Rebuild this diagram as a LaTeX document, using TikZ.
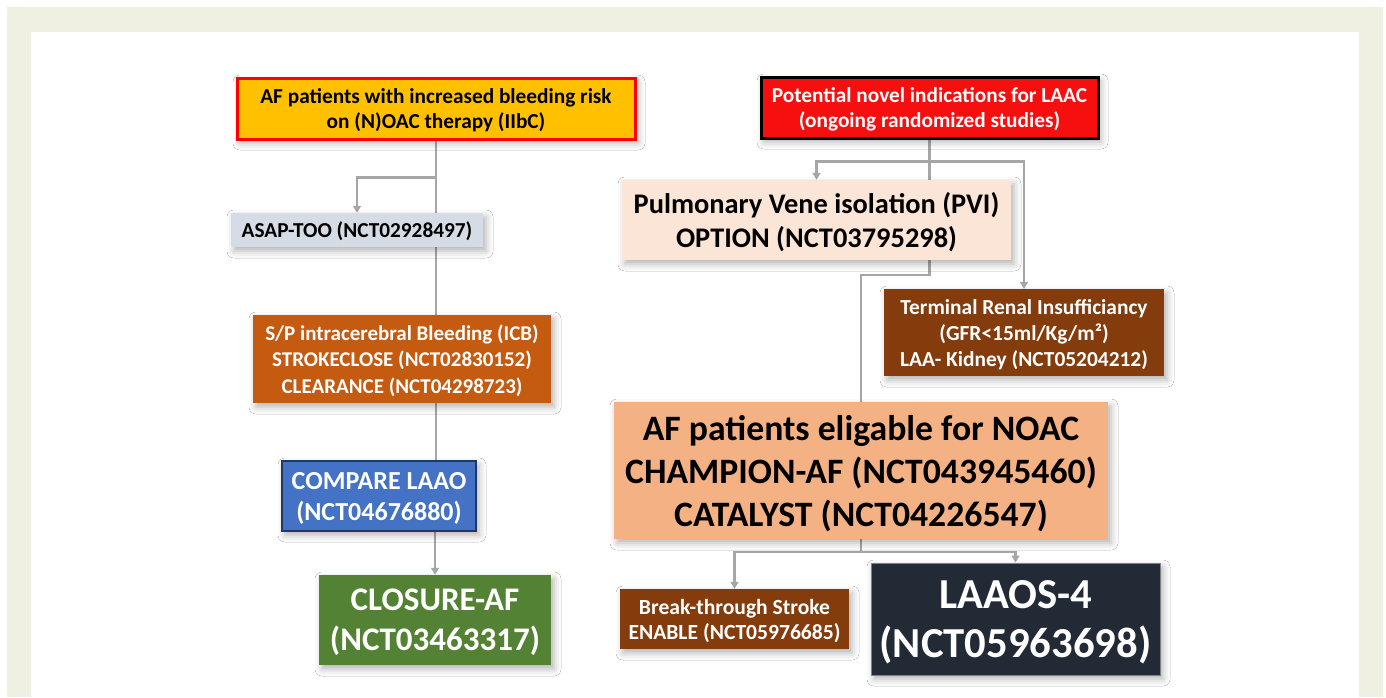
\documentclass[tikz,border=0pt]{standalone}
\usepackage{fontspec}
\setmainfont{Carlito}
\usetikzlibrary{arrows.meta,shadows.blur}
\pgfdeclarelayer{bg}
\pgfdeclarelayer{lines}
\pgfsetlayers{bg,lines,main}

\definecolor{frame}{HTML}{EFEFE2}
\definecolor{amber}{HTML}{FFC000}
\definecolor{alarm}{HTML}{F70F0F}
\definecolor{steel}{HTML}{D6DCE5}
\definecolor{peach}{HTML}{FBE5D6}
\definecolor{rust}{HTML}{843C0C}
\definecolor{burnt}{HTML}{C55A11}
\definecolor{royal}{HTML}{4472C4}
\definecolor{navyedge}{HTML}{1F3864}
\definecolor{salmon}{HTML}{F4B183}
\definecolor{moss}{HTML}{548235}
\definecolor{slate}{HTML}{222A35}
\definecolor{wire}{HTML}{A6A6A6}

\tikzset{
  card/.style={inner sep=0pt, align=center, font=\bfseries, text depth=0pt,
    blur shadow={shadow xshift=3pt, shadow yshift=-4pt,
                 shadow blur radius=7pt, shadow opacity=30}},
  wireline/.style={draw=wire, line width=2.2pt},
  wirearrow/.style={wireline, -{Triangle[width=8pt,length=7pt]}},
}

\begin{document}
\begin{tikzpicture}[x=1pt, y=-1pt]
\useasboundingbox (0,0) rectangle (1386,697);

% left column
\node[card, fill=amber, draw=red, line width=3pt, minimum width=398pt, minimum height=61pt,
      font=\bfseries\fontsize{21.3}{25}\selectfont]
  (yl) at (436,108.5) {AF patients with increased bleeding risk\\on (N)OAC therapy (IIbC)};
\node[card, fill=steel, minimum width=252pt, minimum height=34pt,
      font=\bfseries\fontsize{21.3}{25}\selectfont]
  (asap) at (357,230) {ASAP-TOO (NCT02928497)};
\node[card, fill=burnt, text=white, minimum width=298pt, minimum height=88pt,
      font=\bfseries\fontsize{21}{26.5}\selectfont]
  (icb) at (402,359) {S/P intracerebral Bleeding (ICB)\\STROKECLOSE (NCT02830152)\\CLEARANCE (NCT04298723)};
\node[card, fill=royal, draw=navyedge, line width=1.2pt, text=white, minimum width=194pt, minimum height=70pt,
      font=\bfseries\fontsize{26}{31}\selectfont]
  (cmp) at (379,496) {COMPARE LAAO\\(NCT04676880)};
\node[card, fill=moss, text=white, minimum width=232pt, minimum height=90pt,
      font=\bfseries\fontsize{33}{40}\selectfont]
  (clo) at (435,620) {CLOSURE-AF\\(NCT03463317)};

% right column
\node[card, fill=alarm, draw=black, line width=3pt, text=white, minimum width=337pt, minimum height=61pt,
      font=\bfseries\fontsize{21.3}{25}\selectfont]
  (rd) at (929.5,107.5) {Potential novel indications for LAAC\\(ongoing randomized studies)};
\node[card, fill=peach, minimum width=389pt, minimum height=80pt,
      font=\bfseries\fontsize{28.4}{34}\selectfont]
  (pvi) at (816.5,220) {Pulmonary Vene isolation (PVI)\\OPTION (NCT03795298)};
\node[card, fill=rust, text=white, minimum width=280pt, minimum height=87pt,
      font=\bfseries\fontsize{21.4}{26}\selectfont]
  (ren) at (1024,332.5) {Terminal Renal Insufficiancy\\(GFR<15ml/Kg/m²)\\LAA- Kidney (NCT05204212)};
\node[card, fill=salmon, minimum width=494pt, minimum height=137pt,
      font=\bfseries\fontsize{35.7}{43}\selectfont]
  (noac) at (861,470.5) {AF patients eligable for NOAC\\CHAMPION-AF (NCT043945460)\\CATALYST (NCT04226547)};
\node[card, fill=rust, text=white, minimum width=229pt, minimum height=60pt,
      font=\bfseries\fontsize{21.6}{25}\selectfont]
  (brk) at (734.5,619) {Break-through Stroke\\ENABLE (NCT05976685)};
\node[card, fill=slate, draw=gray, line width=1pt, text=white, minimum width=289pt, minimum height=112pt,
      font=\bfseries\fontsize{42.7}{49}\selectfont]
  (laaos) at (1015.5,619) {LAAOS-4\\(NCT05963698)};

% connectors
\begin{pgfonlayer}{lines}
  \draw[wirearrow] (yl.south) -- ++(0,37) -| (asap.north);
  \draw[wireline] (yl.south) -- (yl.south |- icb.north);
  \draw[wireline] (icb.south -| yl.south) -- (cmp.north -| yl.south);
  \draw[wirearrow] (cmp.south -| clo.north) -- (clo.north);

  \draw[wireline] (rd.south) -- (rd.south |- pvi.north);
  \draw[wirearrow] (rd.south) ++(0,22) -| (pvi.north);
  \draw[wirearrow] (rd.south) ++(0,22) -| (ren.north);
  \draw[wireline] (pvi.south -| rd.south) -- ++(0,15) -| (noac.north);

  \draw[wirearrow] (noac.south) -- ++(0,13) -| (brk.north);
  \draw[wirearrow] (noac.south) ++(0,13) -| (laaos.north);
\end{pgfonlayer}

% page frame
\begin{pgfonlayer}{bg}
  \fill[white] (0,0) rectangle (1386,697);
  \fill[frame] (7,7) rectangle (1383,697);
  \fill[white] (31,32) rectangle (1359,697);
\end{pgfonlayer}
\end{tikzpicture}
\end{document}
